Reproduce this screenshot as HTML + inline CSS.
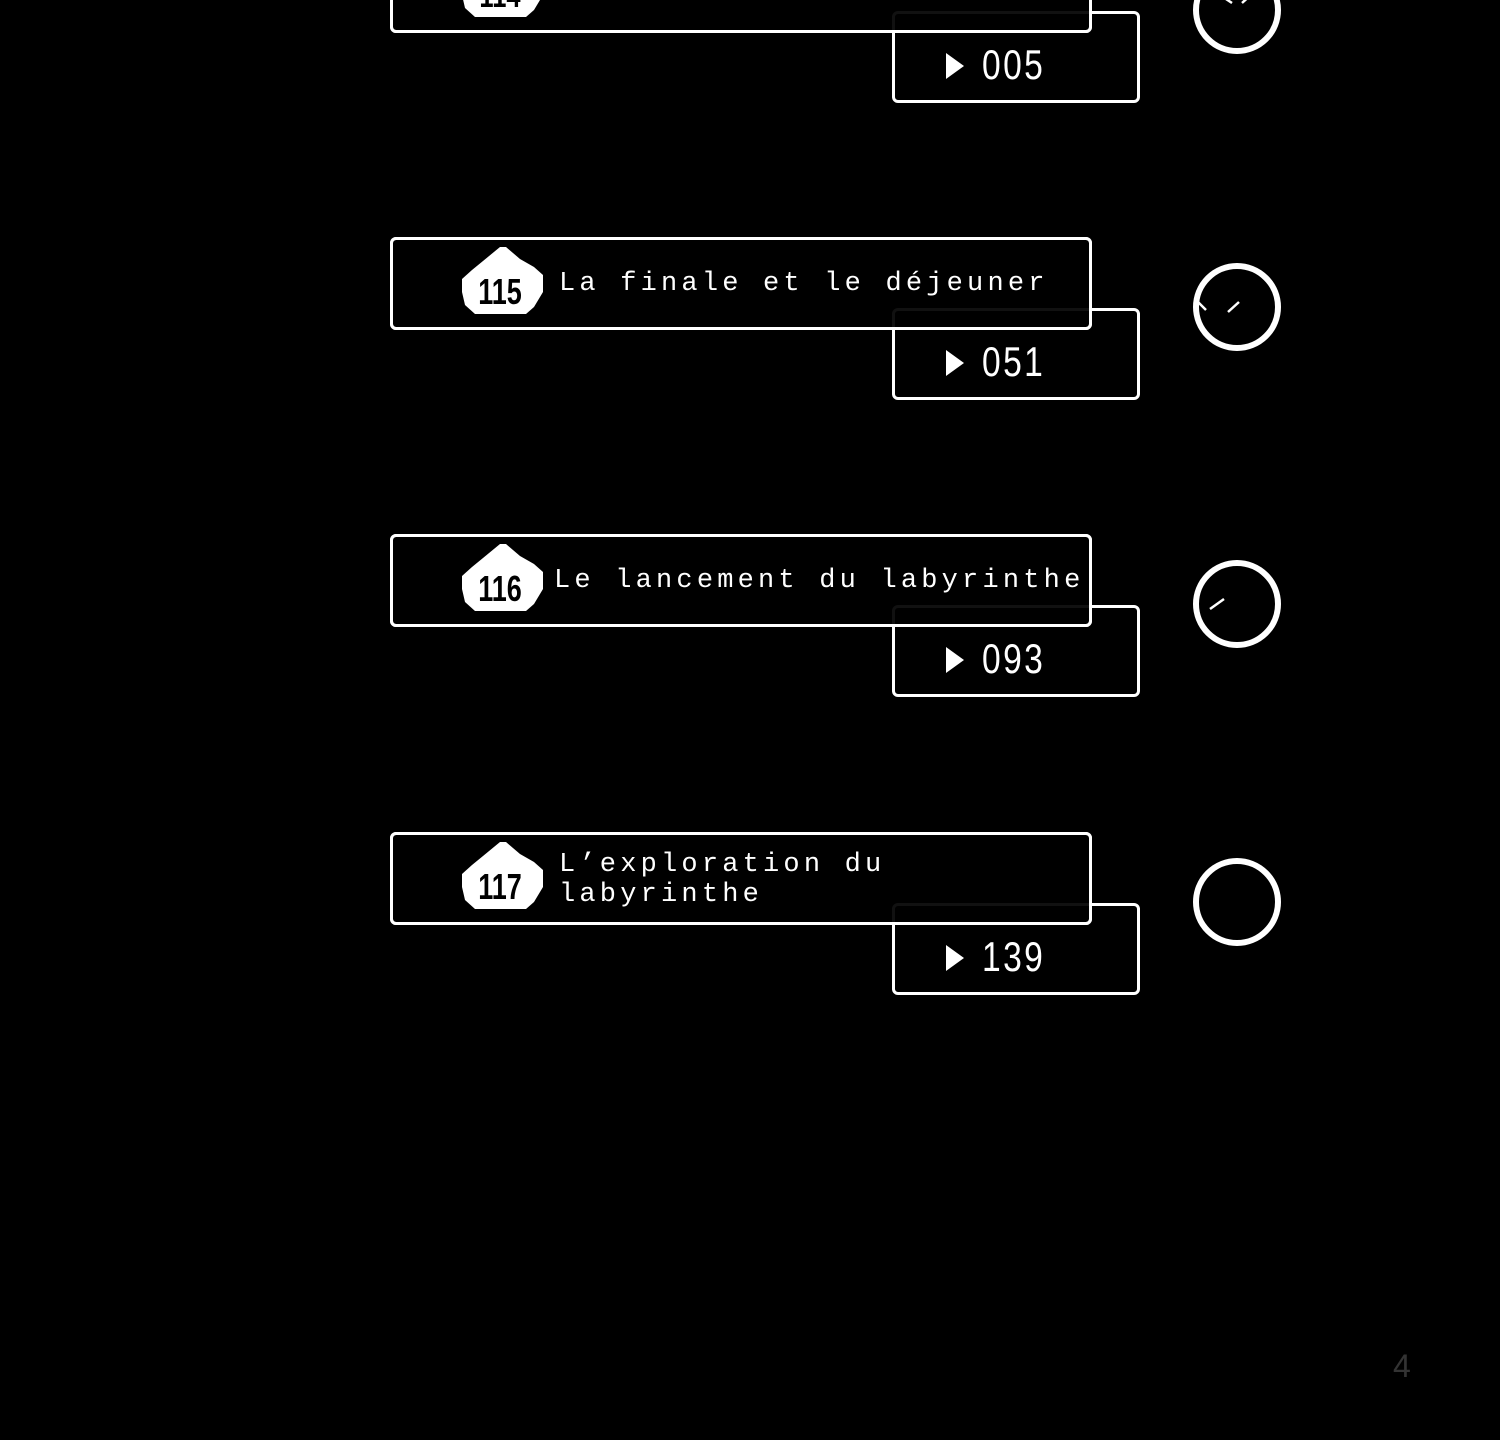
<!DOCTYPE html>
<html><head><meta charset="utf-8"><style>
html,body{margin:0;padding:0;background:#000;width:1500px;height:1440px;overflow:hidden;position:relative;font-family:"Liberation Mono",monospace;}
.row{position:absolute;left:0;width:1500px;height:200px;}
.small{position:absolute;left:892px;top:71px;width:242px;height:86px;border:3px solid #fff;border-radius:6px;}
.main{position:absolute;left:390px;top:0;width:696px;height:87px;border:3px solid #fff;border-radius:6px;background:#000;opacity:0.93}
.mainb{position:absolute;left:390px;top:0;width:696px;height:87px;border:3px solid #fff;border-radius:6px;}
.t{position:absolute;left:559px;color:#fff;font-size:27px;letter-spacing:4.2px;line-height:30px;white-space:nowrap;}
.num{position:absolute;left:982px;top:104px;color:#fff;font-family:"Liberation Sans",sans-serif;font-size:42px;line-height:42px;transform:scaleX(0.8);transform-origin:left top;letter-spacing:3px;}
.tri{position:absolute;left:946px;top:113px;width:0;height:0;border-top:13px solid transparent;border-bottom:13px solid transparent;border-left:18px solid #fff;}
svg{position:absolute;}
</style></head><body>

<div class="row" style="top:-60px">
 <div class="small"></div><div class="main"></div><div class="mainb"></div>
 <svg style="left:450px;top:0" width="110" height="90"><polygon points="50,10 56,10 70,22 84,30 93,38 93,55 84,70 76,77 25,77 15,68 12,55 12,42 22,33 33,24" fill="#fff"/><text x="0" y="0" fill="#000" font-family="Liberation Sans" font-weight="bold" font-size="34" text-anchor="middle" transform="translate(50,67) scale(0.75,1)">114</text></svg>
 <div class="t" style="top:33px">Sommet d'arrivée</div>
 <div class="tri"></div><div class="num">005</div>
 <svg style="left:1190px;top:23px" width="96" height="96"><circle cx="47" cy="47" r="41" fill="none" stroke="#fff" stroke-width="6"/><line x1="30" y1="32" x2="42" y2="40" stroke="#fff" stroke-width="2.5"/><line x1="52" y1="40" x2="63" y2="30" stroke="#fff" stroke-width="2.5"/></svg>
</div>

<div class="row" style="top:237px">
 <div class="small"></div><div class="main"></div><div class="mainb"></div>
 <svg style="left:450px;top:0" width="110" height="90"><polygon points="50,10 56,10 70,22 84,30 93,38 93,55 84,70 76,77 25,77 15,68 12,55 12,42 22,33 33,24" fill="#fff"/><text x="0" y="0" fill="#000" font-family="Liberation Sans" font-weight="bold" font-size="36" text-anchor="middle" transform="translate(50,67) scale(0.75,1)">115</text></svg>
 <div class="t" style="top:32px">La finale et le déjeuner</div>
 <div class="tri"></div><div class="num">051</div>
 <svg style="left:1190px;top:23px" width="96" height="96"><circle cx="47" cy="47" r="41" fill="none" stroke="#fff" stroke-width="6"/><line x1="8" y1="42" x2="16" y2="50" stroke="#fff" stroke-width="2.5"/><line x1="38" y1="52" x2="49" y2="42" stroke="#fff" stroke-width="2.5"/></svg>
</div>

<div class="row" style="top:534px">
 <div class="small"></div><div class="main"></div><div class="mainb"></div>
 <svg style="left:450px;top:0" width="110" height="90"><polygon points="50,10 56,10 70,22 84,30 93,38 93,55 84,70 76,77 25,77 15,68 12,55 12,42 22,33 33,24" fill="#fff"/><text x="0" y="0" fill="#000" font-family="Liberation Sans" font-weight="bold" font-size="36" text-anchor="middle" transform="translate(50,67) scale(0.75,1)">116</text></svg>
 <div class="t" style="top:32px;left:554px">Le lancement du labyrinthe</div>
 <div class="tri"></div><div class="num">093</div>
 <svg style="left:1190px;top:23px" width="96" height="96"><circle cx="47" cy="47" r="41" fill="none" stroke="#fff" stroke-width="6"/><line x1="20" y1="52" x2="34" y2="42" stroke="#fff" stroke-width="2.5"/></svg>
</div>

<div class="row" style="top:832px">
 <div class="small"></div><div class="main"></div><div class="mainb"></div>
 <svg style="left:450px;top:0" width="110" height="90"><polygon points="50,10 56,10 70,22 84,30 93,38 93,55 84,70 76,77 25,77 15,68 12,55 12,42 22,33 33,24" fill="#fff"/><text x="0" y="0" fill="#000" font-family="Liberation Sans" font-weight="bold" font-size="36" text-anchor="middle" transform="translate(50,67) scale(0.75,1)">117</text></svg>
 <div class="t" style="top:18px">L’exploration du<br>labyrinthe</div>
 <div class="tri"></div><div class="num">139</div>
 <svg style="left:1190px;top:23px" width="96" height="96"><circle cx="47" cy="47" r="41" fill="none" stroke="#fff" stroke-width="6"/></svg>
</div>

<div style="position:absolute;left:1393px;top:1348px;color:#333;font-family:'Liberation Sans',sans-serif;font-size:32px;">4</div>
</body></html>
